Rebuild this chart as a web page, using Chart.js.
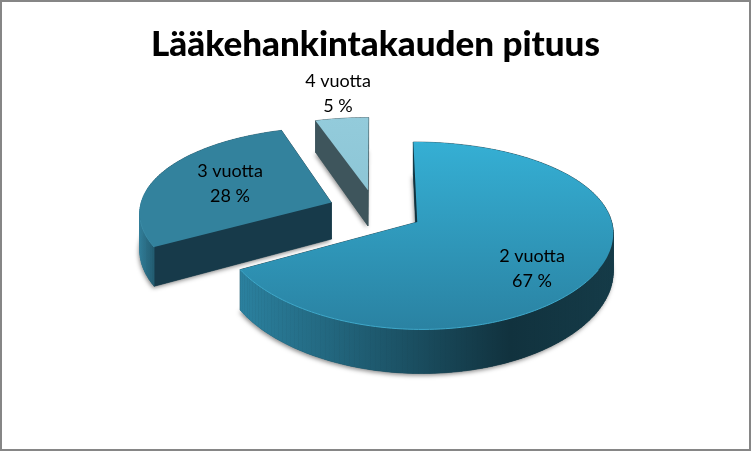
<!DOCTYPE html>
<html>
<head>
<meta charset="utf-8">
<title>Lääkehankintakauden pituus</title>
<script src="https://cdn.jsdelivr.net/npm/chart.js@4/dist/chart.umd.min.js"></script>
<style>
  html, body { margin: 0; padding: 0; background: #fff; }
  #wrap { position: relative; width: 751px; height: 451px; overflow: hidden; }
  #frame { position: absolute; inset: 0; border: 2px solid #868686; box-sizing: border-box; pointer-events: none; }
  canvas { display: block; }
</style>
</head>
<body>
<div id="wrap">
  <canvas id="chart" width="751" height="451"></canvas>
  <div id="frame"></div>
</div>
<script>
const chartTitle = "Lääkehankintakauden pituus";
const categories = ["2 vuotta", "3 vuotta", "4 vuotta"];
const shares = [67, 28, 5];

// look of each slice: top face gradient, rim gradient, flat cut face
const sliceLook = [
  { top: ["#35afd4", "#2a82a2"], rim: [[240, "#2b819f"], [510, "#11323e"], [614, "#153b48"]], face: "#11323e", edge: "#3fa9cb" },
  { top: ["#33829d", "#33829d"], rim: [[140, "#317d98"], [160, "#1c4e60"]], face: "#173a4a", edge: "#3a8ba6" },
  { top: ["#93cbdb", "#8dc6d6"], rim: [[310, "#3e555c"], [370, "#3e555c"]], face: "#3e555c", edge: "#93cbdb" },
];
const labelAnchors = [[532, 257], [230, 172], [338, 82]];

// projection of the tilted disc onto the canvas (unit disc -> pixels)
const view = { cx: 375, cy: 210.5, sx: 192, sy: 88.4, distX: 10, distY: 7, depth: 37 };

function project(x, y, z) {
  const sx = view.distX / (view.distX - y);
  const sy = view.distY / (view.distY - y);
  return [view.cx + x * view.sx * sx, view.cy + (y * view.sy + z * view.depth) * sy];
}

function outline(arc) {
  const { startAngle, endAngle, outerRadius } = arc.getProps(["startAngle", "endAngle", "outerRadius"], true);
  const off = arc.options.offset / outerRadius;
  const mid = (startAngle + endAngle) / 2;
  const ox = Math.cos(mid) * off, oy = Math.sin(mid) * off;
  const pts = [[ox, oy]];
  const steps = Math.max(8, Math.round((endAngle - startAngle) * 40));
  for (let i = 0; i <= steps; i++) {
    const a = startAngle + (endAngle - startAngle) * i / steps;
    pts.push([ox + Math.cos(a), oy + Math.sin(a)]);
  }
  return pts;
}

function tracePoly(ctx, pts, z) {
  ctx.beginPath();
  pts.forEach((p, i) => {
    const q = project(p[0], p[1], z);
    if (i === 0) ctx.moveTo(q[0], q[1]); else ctx.lineTo(q[0], q[1]);
  });
  ctx.closePath();
}

const pie3d = {
  id: "pie3d",
  beforeDatasetDraw(chart, args) {
    const ctx = chart.ctx;
    const arcs = chart.getDatasetMeta(args.index).data;
    // far slices first
    const order = [2, 1, 0];
    order.forEach((idx) => {
      const look = sliceLook[idx];
      const pts = outline(arcs[idx]);
      const n = pts.length;

      // soft shadow under the slice
      ctx.save();
      ctx.shadowColor = "rgba(0,0,0,0.45)";
      ctx.shadowBlur = 4;
      ctx.shadowOffsetX = -1;
      ctx.shadowOffsetY = 2;
      ctx.fillStyle = look.face;
      tracePoly(ctx, pts, 1);
      ctx.fill();
      ctx.restore();

      // walls, back to front
      const rimGrad = ctx.createLinearGradient(look.rim[0][0], 0, look.rim[look.rim.length - 1][0], 0);
      const x0 = look.rim[0][0], x1 = look.rim[look.rim.length - 1][0];
      look.rim.forEach((st) => rimGrad.addColorStop((st[0] - x0) / (x1 - x0), st[1]));
      const quads = [];
      for (let i = 0; i < n; i++) {
        const a = pts[i], b = pts[(i + 1) % n];
        const straight = i === 0 || i === n - 1;
        quads.push({ a, b, straight, y: (a[1] + b[1]) / 2 });
      }
      quads.sort((p, q) => p.y - q.y);
      quads.forEach((w) => {
        const fill = w.straight ? look.face : rimGrad;
        ctx.fillStyle = fill;
        ctx.strokeStyle = fill;
        ctx.lineWidth = 0.6;
        const p1 = project(w.a[0], w.a[1], 0), p2 = project(w.b[0], w.b[1], 0);
        const p3 = project(w.b[0], w.b[1], 1), p4 = project(w.a[0], w.a[1], 1);
        ctx.beginPath();
        ctx.moveTo(p1[0], p1[1]); ctx.lineTo(p2[0], p2[1]);
        ctx.lineTo(p3[0], p3[1]); ctx.lineTo(p4[0], p4[1]);
        ctx.closePath();
        ctx.fill();
        ctx.stroke();
      });

      // top face
      const ys = pts.map((p) => project(p[0], p[1], 0)[1]);
      const topGrad = ctx.createLinearGradient(0, Math.min(...ys), 0, Math.max(...ys));
      topGrad.addColorStop(0, look.top[0]);
      topGrad.addColorStop(1, look.top[1]);
      ctx.fillStyle = topGrad;
      tracePoly(ctx, pts, 0);
      ctx.fill();

      // thin light bevel along the front of the rim
      ctx.strokeStyle = look.edge;
      ctx.lineWidth = 1;
      ctx.beginPath();
      let started = false;
      for (let i = 1; i < n; i++) {
        const m = Math.atan2(pts[i][1] - pts[0][1], pts[i][0] - pts[0][0]);
        if (m < 0.5 || m > 2.95) { started = false; continue; }
        const q = project(pts[i][0], pts[i][1], 0);
        if (!started) { ctx.moveTo(q[0], q[1]); started = true; } else ctx.lineTo(q[0], q[1]);
      }
      ctx.stroke();
    });
    return false; // the flat arcs are replaced by the projected ones
  },
  afterDatasetsDraw(chart) {
    const ctx = chart.ctx;
    ctx.save();
    ctx.fillStyle = "#000";
    ctx.font = "18px Lato";
    ctx.textAlign = "center";
    ctx.textBaseline = "middle";
    categories.forEach((cat, i) => {
      ctx.fillText(cat, labelAnchors[i][0], labelAnchors[i][1] - 1);
      ctx.fillText(shares[i] + " %", labelAnchors[i][0], labelAnchors[i][1] + 24);
    });
    ctx.restore();
  },
};

new Chart(document.getElementById("chart"), {
  type: "pie",
  plugins: [pie3d],
  data: {
    labels: categories,
    datasets: [{
      data: shares,
      backgroundColor: sliceLook.map((l) => l.top[0]),
      borderWidth: 0,
      offset: [42, 41, 40],
    }],
  },
  options: {
    responsive: false,
    animation: false,
    events: [],
    layout: { padding: 0 },
    plugins: {
      legend: { display: false },
      tooltip: { enabled: false },
      title: {
        display: true,
        text: chartTitle,
        color: "#000",
        font: { family: "Lato", size: 35, weight: "900" },
        padding: { top: 24, bottom: 10 },
      },
    },
  },
});
</script>
</body>
</html>
